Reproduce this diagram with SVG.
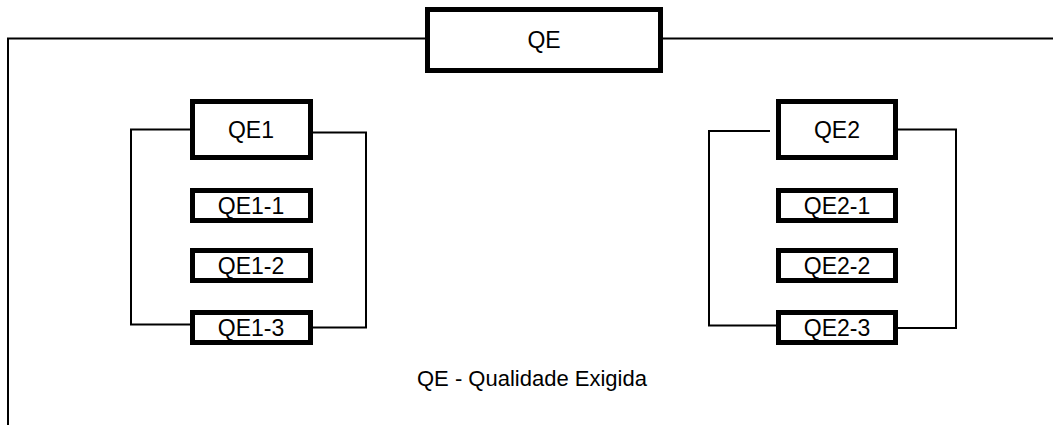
<svg xmlns="http://www.w3.org/2000/svg" width="1053" height="425" viewBox="0 0 1053 425">
  <style>
    .box { fill: #ffffff; stroke: #000000; stroke-width: 5; }
    .wire { fill: none; stroke: #000000; stroke-width: 2; }
    .label { font-family: "Liberation Sans", Arial, sans-serif; font-size: 23px; fill: #000000; text-anchor: middle; }
    .note { font-family: "Liberation Sans", Arial, sans-serif; font-size: 22px; fill: #000000; }
  </style>
  <rect width="1053" height="425" fill="#ffffff"/>

  <g id="connectors">
    <!-- frame from the top box -->
    <path class="wire" d="M8,425 V38.5 H427"/>
    <path class="wire" d="M661,38.5 H1053"/>
    <!-- QE1 bracket -->
    <path class="wire" d="M191,129.5 H131 V324.5 H191"/>
    <path class="wire" d="M306,132.5 H366 V327.5 H312"/>
    <!-- QE2 bracket -->
    <path class="wire" d="M770,131 H709 V325.5 H777"/>
    <path class="wire" d="M896,129.5 H956 V328 H896"/>
  </g>

  <g id="QE">
    <rect class="box" x="427.5" y="9.5" width="233" height="61"/>
    <text class="label" x="544" y="48">QE</text>
  </g>

  <g id="QE1">
    <rect class="box" x="192.5" y="101.5" width="118" height="56"/>
    <text class="label" x="251" y="137.5">QE1</text>
  </g>
  <g id="QE1-1">
    <rect class="box" x="192.5" y="190.5" width="118" height="30"/>
    <text class="label" x="251" y="213.5">QE1-1</text>
  </g>
  <g id="QE1-2">
    <rect class="box" x="192.5" y="250.5" width="118" height="30"/>
    <text class="label" x="251" y="273.5">QE1-2</text>
  </g>
  <g id="QE1-3">
    <rect class="box" x="192.5" y="312.5" width="118" height="30"/>
    <text class="label" x="251" y="335.5">QE1-3</text>
  </g>

  <g id="QE2">
    <rect class="box" x="778.5" y="101.5" width="117" height="56"/>
    <text class="label" x="837" y="137.5">QE2</text>
  </g>
  <g id="QE2-1">
    <rect class="box" x="778.5" y="190.5" width="117" height="30"/>
    <text class="label" x="837" y="213.5">QE2-1</text>
  </g>
  <g id="QE2-2">
    <rect class="box" x="778.5" y="250.5" width="117" height="30"/>
    <text class="label" x="837" y="273.5">QE2-2</text>
  </g>
  <g id="QE2-3">
    <rect class="box" x="778.5" y="312.5" width="117" height="30"/>
    <text class="label" x="837" y="335.5">QE2-3</text>
  </g>

  <text class="note" x="417" y="386">QE - Qualidade Exigida</text>
</svg>
